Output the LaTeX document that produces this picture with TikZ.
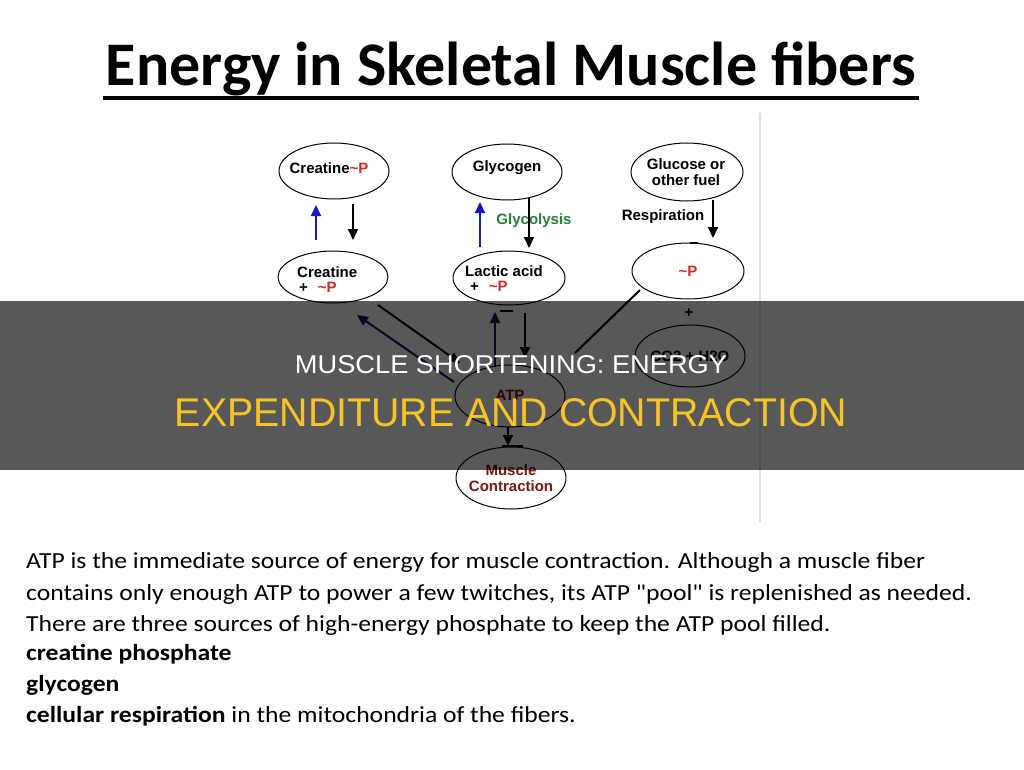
\documentclass[tikz,border=0pt]{standalone}
\usepackage{fontspec}
\usepackage{graphicx}
\setmainfont{Liberation Sans}
\newfontfamily\calibri{Carlito}
\newfontfamily\arialf{Liberation Sans}
\usetikzlibrary{shapes.geometric,calc,arrows.meta}
\definecolor{redp}{RGB}{215,40,40}
\definecolor{darkred}{RGB}{130,20,20}
\definecolor{arrblue}{RGB}{25,25,190}
\definecolor{navyblue}{RGB}{20,20,110}
\definecolor{glygreen}{RGB}{40,130,60}
\definecolor{banneryellow}{RGB}{246,196,40}
\definecolor{vlinegray}{RGB}{225,225,225}
\newcommand{\bodyline}[1]{\scalebox{1.115}[1]{#1}}
\begin{document}
\begin{tikzpicture}[x=1pt,y=-1pt,
  el/.style={draw=black,line width=1pt,ellipse,inner sep=0pt},
  lbl/.style={font=\arialf\bfseries\fontsize{15}{15}\selectfont,inner sep=0pt,align=center},
  blk/.style={draw=black,line width=2pt,-{Triangle[length=11pt,width=10pt]}},
  blu/.style={draw=arrblue,line width=2pt,-{Triangle[length=11pt,width=10pt]}},
  nav/.style={draw=navyblue,line width=2pt,-{Triangle[length=11pt,width=10pt]}},
  plainln/.style={draw=black,line width=2pt},
  tick/.style={draw=black,line width=1.5pt},
  body/.style={font=\calibri\fontsize{23}{23}\selectfont,inner sep=0pt,anchor=base west}
]
\useasboundingbox (0,0) rectangle (1024,770);
\fill[white] (0,0) rectangle (1024,770);
\draw[vlinegray,line width=1.5pt] (760,113) -- (760,522);

% title
\node[anchor=base,inner sep=0pt,font=\calibri\bfseries\fontsize{62}{62}\selectfont] (title) at (511,86) {Energy in Skeletal Muscle fibers};
\draw[line width=4pt] (103,98) -- (919,98);

% ellipses
\node[el,minimum width=110pt,minimum height=56pt] (crp) at (334,171) {};
\node[el,minimum width=110pt,minimum height=56pt] (gly) at (507,172) {};
\node[el,minimum width=112pt,minimum height=58pt] (glu) at (687,172) {};
\node[el,minimum width=110pt,minimum height=52pt] (cr) at (333,277) {};
\node[el,minimum width=112pt,minimum height=54pt] (lac) at (509,278) {};
\node[el,minimum width=112pt,minimum height=56pt] (p) at (688,271) {};
\node[el,minimum width=110pt,minimum height=62pt] (co) at (690,356) {};
\node[el,minimum width=110pt,minimum height=62pt] (atp) at (510,396) {};
\node[el,minimum width=110pt,minimum height=62pt] (mc) at (511,478) {};

% texts in ellipses
\node[lbl] (crpt) at ($(crp)+(-5,-3)$) {Creatine\textcolor{redp}{\textasciitilde P}};
\node[lbl] (glyt) at ($(gly)+(0,-4)$) {Glycogen};
\node[lbl] (glut) at ($(glu)+(-1,0)$) {Glucose or\\[1pt]other fuel};
\node[lbl,anchor=west] (crt1) at ($(cr)+(-36,-5)$) {Creatine};
\node[lbl,anchor=west] (crt2) at ($(cr)+(-34,10)$) {+\hspace{10pt}\textcolor{redp}{\textasciitilde P}};
\node[lbl,anchor=west] (lact1) at ($(lac)+(-44,-7)$) {Lactic acid};
\node[lbl,anchor=west] (lact2) at ($(lac)+(-39,8)$) {+\hspace{10pt}\textcolor{redp}{\textasciitilde P}};
\node[lbl,text=redp] (pt) at (p) {\textasciitilde P};
\node[lbl] (cot) at (co) {CO2 + H2O};
\node[lbl,text=darkred] (atpt) at ($(atp)+(0,-1)$) {ATP};
\node[lbl,text=darkred] (mct) at (mc) {Muscle\\[1pt]Contraction};
\node[lbl] (plus) at ($(p)!0.5!(co)$) {+};

% labels
\node[lbl,text=glygreen] (glylab) at (534,221) {Glycolysis};
\node[lbl] (reslab) at (663,217) {Respiration};

% connectors
\draw[blu] ($(cr)+(-17,-37)$) -- ($(crp)+(-18,34)$);
\draw[blk] ($(crp)+(19,33)$) -- ($(cr)+(20,-37)$);
\draw[blu] ($(lac)+(-29,-31)$) -- ($(gly)+(-27,30)$);
\draw[blk] ($(gly)+(22,26)$) -- ($(lac)+(20,-30)$);
\draw[blk] ($(glu)+(26,28)$) -- ($(p)+(25,-33)$);
\draw[blk] ($(cr)+(45,28)$) -- ($(atp)+(-50,-33)$);
\draw[nav] ($(atp)+(-56,-14)$) -- ($(cr)+(24,38)$);
\draw[nav] ($(atp)+(-15,-29)$) -- ($(lac)+(-14,34)$);
\draw[blk] ($(lac)+(16,35)$) -- ($(atp)+(15,-38)$);
\draw[plainln] ($(p)+(-48,19)$) -- ($(atp)+(65,-43)$);
\draw[blk] ($(atp)+(-2,31)$) -- ($(mc)+(-3,-32)$);

% small ticks
\draw[tick] ($(p)+(2,-28)$) -- ($(p)+(10,-28)$);
\draw[tick] ($(lac)+(-9,33)$) -- ($(lac)+(4,33)$);
\draw[tick] ($(mc)+(-9,-32)$) -- ($(mc)+(12,-32)$);

% banner
\fill[black,opacity=0.655] (0,301) rectangle (1024,470);
\node[anchor=base,inner sep=0pt,text=white] (b1) at (511,373) {\resizebox{432pt}{18pt}{\arialf MUSCLE SHORTENING: ENERGY}};
\node[anchor=base,inner sep=0pt,text=banneryellow] (b2) at (511,426) {\resizebox{672pt}{28pt}{\arialf EXPENDITURE AND CONTRACTION}};

% body text
\node[body] (l1) at (26,568) {\bodyline{ATP is the immediate source of energy for muscle contraction. Although a muscle fiber}};
\node[body] (l2) at (26,600) {\bodyline{contains only enough ATP to power a few twitches, its ATP "pool" is replenished as needed.}};
\node[body] (l3) at (26,631) {\bodyline{There are three sources of high-energy phosphate to keep the ATP pool filled.}};
\node[body] (l4) at (26,660) {\bodyline{\bfseries creatine phosphate}};
\node[body] (l5) at (26,691) {\bodyline{\bfseries glycogen}};
\node[body] (l6) at (26,722) {\bodyline{\textbf{cellular respiration} in the mitochondria of the fibers.}};
\end{tikzpicture}
\end{document}
